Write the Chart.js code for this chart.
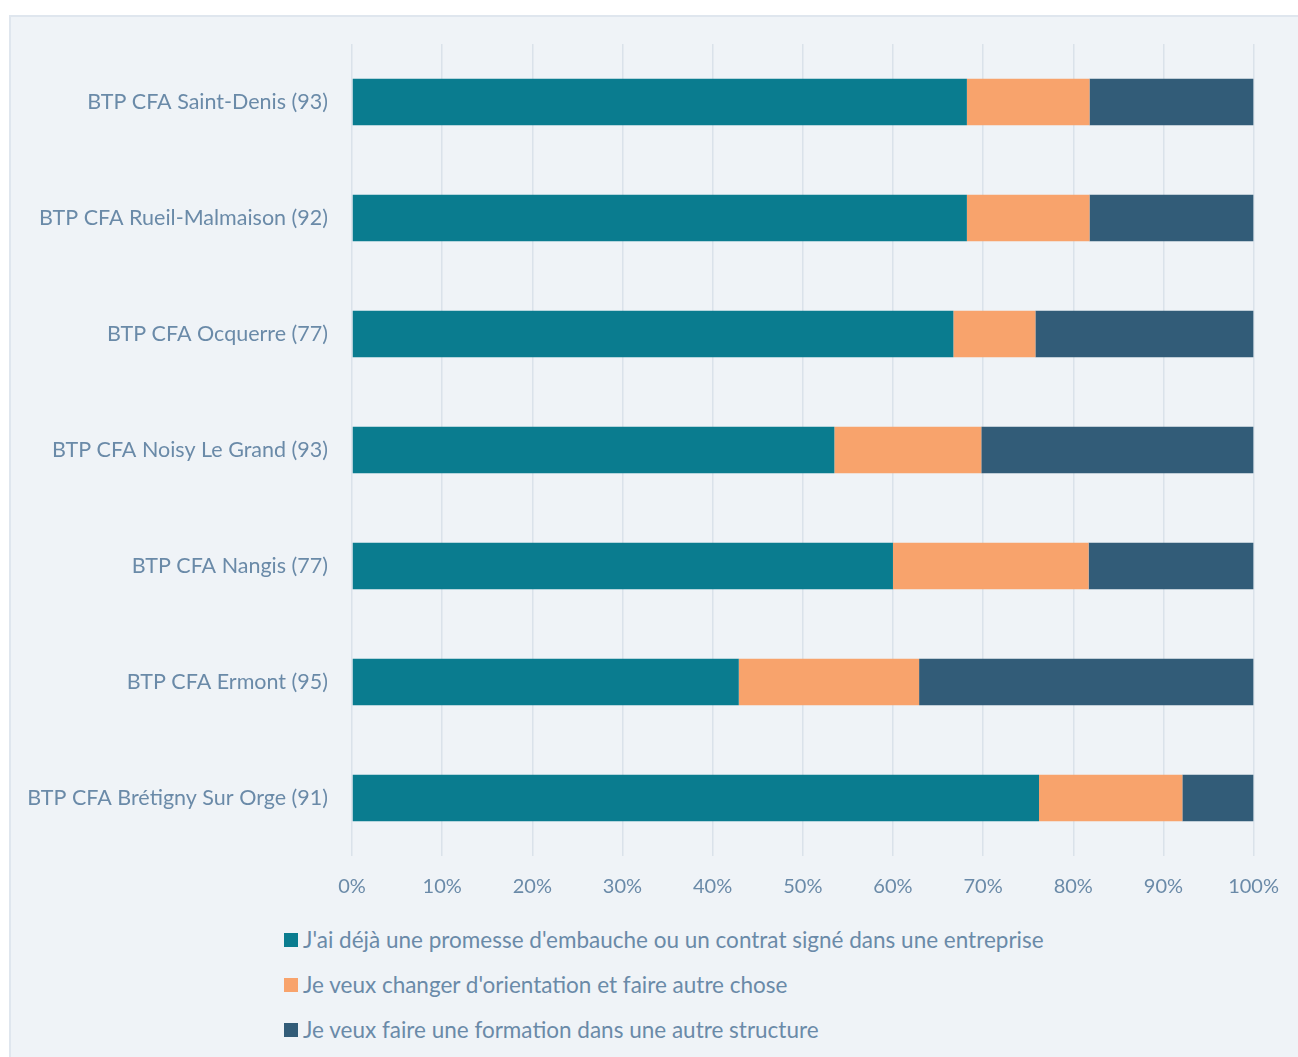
<!DOCTYPE html>
<html lang="fr">
<head>
<meta charset="utf-8">
<script src="https://cdn.jsdelivr.net/npm/chart.js@4.4.0/dist/chart.umd.min.js"></script>
<style>
    html, body { margin: 0; padding: 0; background: #ffffff; }
    body { width: 1298px; height: 1057px; position: relative; overflow: hidden; font-family: Lato, "Open Sans", sans-serif; }
    .panel {
        position: absolute; left: 9px; top: 15px; width: 1320px; height: 1080px;
        background: #eff3f7; border: 2px solid #dfe6ee; box-sizing: border-box;
    }
    .chart-box { position: absolute; left: 0; top: 0; width: 1298px; height: 900px; }
    #legend { position: absolute; left: 284px; top: 927px; margin: 0; padding: 0; list-style: none; }
    #legend li {
        height: 45px; line-height: 26px; font-size: 22.5px; color: #6a8aa8;
        display: flex; align-items: flex-start; white-space: nowrap;
    }
    #legend li span.box { width: 14px; height: 14px; margin: 6px 5px 0 0; display: inline-block; flex: none; }
</style>
</head>
<body>
<div class="panel"></div>
<div class="chart-box"><canvas id="cfaChart"></canvas></div>
<ul id="legend"></ul>
<script>
// données (en %)
const categories = [
    'BTP CFA Saint-Denis (93)',
    'BTP CFA Rueil-Malmaison (92)',
    'BTP CFA Ocquerre (77)',
    'BTP CFA Noisy Le Grand (93)',
    'BTP CFA Nangis (77)',
    'BTP CFA Ermont (95)',
    'BTP CFA Brétigny Sur Orge (91)'
];
const seriesNames = [
    "J'ai déjà une promesse d'embauche ou un contrat signé dans une entreprise",
    "Je veux changer d'orientation et faire autre chose",
    "Je veux faire une formation dans une autre structure"
];
const promesse = [68.2, 68.2, 66.7, 53.5, 60.0, 42.9, 76.2];
const orientation = [13.6, 13.6, 9.1, 16.3, 21.7, 20.0, 15.9];
const formation = [18.2, 18.2, 24.2, 30.2, 18.3, 37.1, 7.9];
const xTicks = [0, 10, 20, 30, 40, 50, 60, 70, 80, 90, 100];

const colors = ['#0a7c8f', '#f8a36c', '#325c78'];
const textColor = '#6a8aa8';

document.addEventListener('DOMContentLoaded', function() {
    const ctx = document.getElementById('cfaChart').getContext('2d');
    const values = [promesse, orientation, formation];

    const chart = new Chart(ctx, {
        type: 'bar',
        data: {
            labels: categories,
            datasets: seriesNames.map(function(name, i) {
                return {
                    label: name,
                    data: values[i],
                    backgroundColor: colors[i],
                    borderWidth: 0,
                    barPercentage: 0.5,
                    categoryPercentage: 0.8
                };
            })
        },
        options: {
            indexAxis: 'y',
            responsive: true,
            maintainAspectRatio: false,
            animation: false,
            layout: { padding: { top: 44, right: 44, bottom: 0, left: 0 } },
            scales: {
                x: {
                    stacked: true,
                    min: 0,
                    max: 100,
                    afterBuildTicks: function(scale) {
                        scale.ticks = xTicks.map(function(v) { return { value: v }; });
                    },
                    afterFit: function(scale) { scale.height = 44; },
                    grid: { color: '#dae2ea', lineWidth: 1.5, drawTicks: false },
                    border: { display: false },
                    ticks: {
                        padding: 19,
                        color: textColor,
                        font: { family: 'Lato', size: 20 },
                        maxRotation: 0,
                        callback: function(value) { return value + '%'; }
                    }
                },
                y: {
                    stacked: true,
                    afterFit: function(scale) { scale.width = 352; },
                    grid: { display: false, drawTicks: false },
                    border: { display: false },
                    ticks: {
                        padding: 24,
                        color: textColor,
                        font: { family: 'Lato', size: 21.5 }
                    }
                }
            },
            plugins: {
                legend: { display: false },
                tooltip: { enabled: false }
            }
        }
    });

    // légende verticale en HTML
    const legend = document.getElementById('legend');
    chart.data.datasets.forEach(function(ds) {
        const li = document.createElement('li');
        const box = document.createElement('span');
        box.className = 'box';
        box.style.background = ds.backgroundColor;
        li.appendChild(box);
        li.appendChild(document.createTextNode(ds.label));
        legend.appendChild(li);
    });
});
</script>
</body>
</html>
